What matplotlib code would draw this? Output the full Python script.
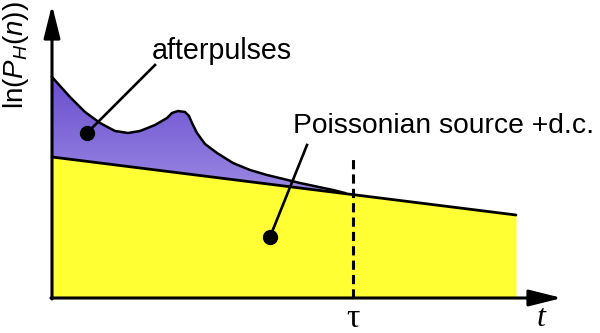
import numpy as np
import matplotlib.pyplot as plt
from matplotlib.colors import LinearSegmentedColormap

plt.rcParams['font.family'] = ['Liberation Sans', 'DejaVu Sans']
plt.rcParams['mathtext.fontset'] = 'custom'
plt.rcParams['mathtext.rm'] = 'Liberation Sans'
plt.rcParams['mathtext.it'] = 'Liberation Sans:italic'

# background (Poissonian source + dark counts): straight line in ln scale
bg_t = [0, 464]
bg_ln = [141, 83]

# measured distribution with afterpulse bump
curve_t = [0, 18, 33, 48, 63, 76, 88, 103, 115, 120, 126, 133, 137, 140,
           145, 153, 165, 181, 198, 215, 248, 281, 293]
curve_ln = [221, 201, 186, 175, 167, 165, 167, 173, 180, 185, 187, 186, 182,
            175, 165, 154, 145, 135, 128, 123, 115, 108, 105]

tau = 301
t_max = 510
ln_max = 293

fig = plt.figure(figsize=(6, 3.33), dpi=100)
ax = fig.add_axes([0, 0, 1, 1])
ax.set_xlim(-52, 548)
ax.set_ylim(-35, 298)
ax.axis('off')

# yellow area under background line
ax.fill_between(bg_t, 0, bg_ln, color='#ffff33', lw=0, zorder=1)

# purple afterpulse area between curve and background line
bg_at_curve = np.interp(curve_t, bg_t, bg_ln)
poly = ax.fill_between(curve_t, bg_at_curve, curve_ln, color='none', lw=0, zorder=2)
cmap = LinearSegmentedColormap.from_list('purp', ['#a393e6', '#6a4ecf'])
grad = np.linspace(0, 1, 256).reshape(-1, 1)
im = ax.imshow(grad, cmap=cmap, origin='lower', aspect='auto',
               extent=[0, max(curve_t), min(bg_ln), max(curve_ln)], zorder=2)
im.set_clip_path(poly.get_paths()[0], transform=ax.transData)
ax.set_xlim(-52, 548)
ax.set_ylim(-35, 298)

ax.plot(curve_t, curve_ln, color='black', lw=1.8, zorder=3, solid_joinstyle='round')
ax.plot(bg_t, bg_ln, color='black', lw=2.0, zorder=3, solid_capstyle='round')

# tau marker
ax.plot([tau, tau], [0, 142], color='black', lw=2.2, ls=(0, (3.0, 1.7)), zorder=4)

# axes with arrows
arrow = dict(arrowstyle='-|>,head_length=1.0,head_width=0.25', color='black',
             lw=2.2, shrinkA=0, shrinkB=0, mutation_scale=20)
ax.annotate('', xy=(0, ln_max), xytext=(0, -1), arrowprops=arrow, zorder=5)
ax.annotate('', xy=(t_max, 0), xytext=(-1, 0), arrowprops=arrow, zorder=5)

# pointers
ax.plot([103, 35], [233, 165], color='black', lw=1.9, zorder=6)
ax.plot([35], [165], 'o', color='black', ms=10, zorder=6)
ax.plot([255, 218], [153, 61], color='black', lw=1.9, zorder=6)
ax.plot([218], [61], 'o', color='black', ms=10, zorder=6)

ax.text(100, 239, 'afterpulses', fontsize=20.6, va='baseline', ha='left')
ax.text(241, 165, 'Poissonian source +d.c.', fontsize=20.3, va='baseline', ha='left')
ax.text(-36, 243, r'ln($P_H$($n$))', fontsize=20, rotation=90, ha='center', va='center')
ax.text(tau, -21, 'τ', fontsize=24, ha='center', va='center', family='Liberation Serif')
ax.text(489, -20, 't', fontsize=23, ha='center', va='center', family='Liberation Serif',
        style='italic')

fig.savefig('out.png', dpi=100)
